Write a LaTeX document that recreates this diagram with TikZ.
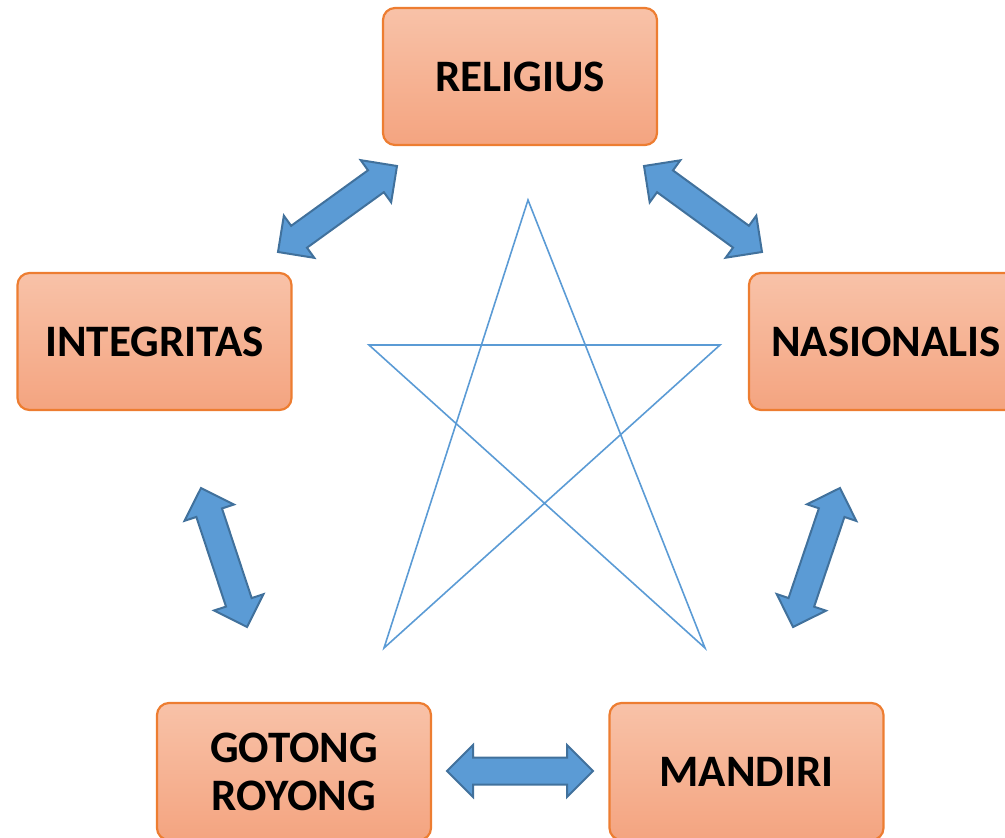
\documentclass[tikz,border=0pt]{standalone}
\usepackage{fontspec}
\setmainfont{Carlito}
\usetikzlibrary{calc}
\definecolor{boxtop}{RGB}{248,194,168}
\definecolor{boxbot}{RGB}{244,164,128}
\definecolor{boxedge}{RGB}{237,125,49}
\definecolor{arrfill}{RGB}{91,155,213}
\definecolor{arredge}{RGB}{65,113,156}
\definecolor{starcol}{RGB}{91,155,213}
\newcommand\hl{26pt}
\newcommand\hw{26pt}
\newcommand\sw{13.5pt}
\newcommand\blockarrow[2]{%
\draw[blockarr] (#1) -- ($(#1)!\hl!(#2)!\hw!90:(#2)$) -- ($(#1)!\hl!(#2)!\sw!90:(#2)$)
 -- ($(#2)!\hl!(#1)!\sw!-90:(#1)$) -- ($(#2)!\hl!(#1)!\hw!-90:(#1)$) -- (#2)
 -- ($(#2)!\hl!(#1)!\hw!90:(#1)$) -- ($(#2)!\hl!(#1)!\sw!90:(#1)$)
 -- ($(#1)!\hl!(#2)!\sw!-90:(#2)$) -- ($(#1)!\hl!(#2)!\hw!-90:(#2)$) -- cycle;}
\tikzset{
  valbox/.style={draw=boxedge, line width=2.2pt, rounded corners=12pt,
    shading=axis, top color=boxtop, bottom color=boxbot,
    minimum width=274pt, minimum height=137pt, inner sep=0pt,
    align=center, font=\fontsize{45}{48}\selectfont\bfseries},
  blockarr/.style={draw=arredge, fill=arrfill, line width=2pt, line join=miter},
  starline/.style={draw=starcol, line width=1.6pt, line join=miter}
}
\begin{document}
\begin{tikzpicture}[x=1pt,y=-1pt]
\useasboundingbox (0,0) rectangle (1005,838);
\clip (0,0) rectangle (1005,838);
% boxes
\node[valbox] (rel) at (520,76.5) {RELIGIUS};
\node[valbox] (int) at (154.5,341.5) {INTEGRITAS};
\node[valbox] (nas) at (886,341.5) {NASIONALIS};
\node[valbox] (got) at (294,771.5) {GOTONG\\ROYONG};
\node[valbox] (man) at (746.5,771.5) {MANDIRI};
% star
\coordinate (st) at (528,200);
\coordinate (sl) at (369,345);
\coordinate (sr) at (720,345);
\coordinate (sbl) at (384,648);
\coordinate (sbr) at (705,648);
\draw[starline] (st) -- (sbl) -- (sr) -- (sl) -- (sbr) -- cycle;
% block arrows
\coordinate (a1s) at (397,166); \coordinate (a1e) at (278,252);
\coordinate (a2s) at (644,166); \coordinate (a2e) at (762,252);
\coordinate (a3s) at (201,488); \coordinate (a3e) at (247,627);
\coordinate (a4s) at (840,488); \coordinate (a4e) at (793,627);
\coordinate (a5s) at (447,771); \coordinate (a5e) at (593,771);
\blockarrow{a1s}{a1e}
\blockarrow{a2s}{a2e}
\blockarrow{a3s}{a3e}
\blockarrow{a4s}{a4e}
\blockarrow{a5s}{a5e}
\end{tikzpicture}
\end{document}
